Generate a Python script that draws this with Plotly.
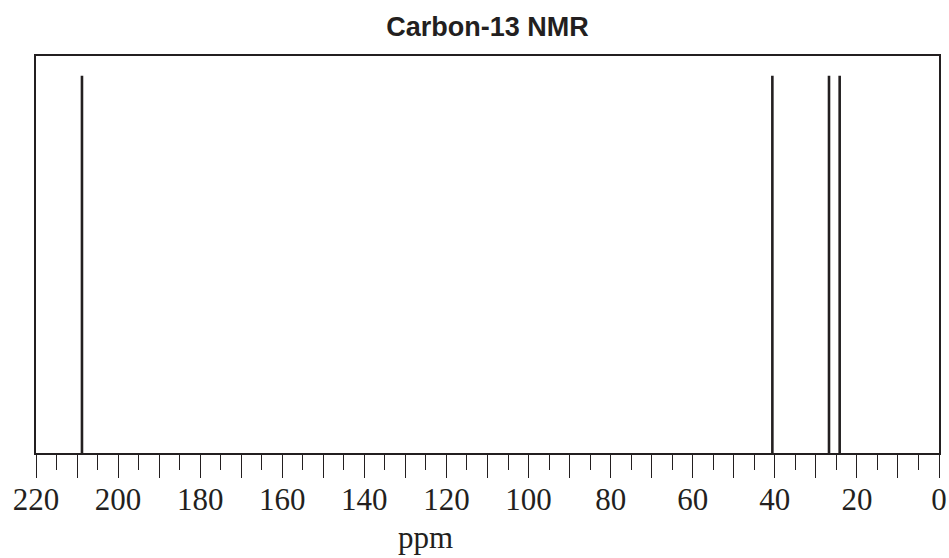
import plotly.graph_objects as go

# Data
peak_ppm = [208.8, 40.6, 26.8, 24.2]
peak_intensity = [0.95, 0.95, 0.95, 0.95]
tick_values = list(range(0, 221, 10))
tick_labels = [str(v) if v % 20 == 0 else "" for v in tick_values]

INK = "#231f20"

xs, ys = [], []
for p, h in zip(peak_ppm, peak_intensity):
    xs += [p, p, None]
    ys += [0, h, None]

fig = go.Figure()
fig.add_trace(go.Scatter(x=xs, y=ys, mode="lines",
                         line=dict(color=INK, width=2.6),
                         hoverinfo="skip", showlegend=False))

fig.update_layout(
    width=949, height=558,
    margin=dict(l=36, r=10, t=56, b=105, autoexpand=False),
    paper_bgcolor="white", plot_bgcolor="white",
    title=dict(text="<b>Carbon-13 NMR</b>", x=(36 + 939) / 2 / 949, xanchor="center",
               y=1 - 27 / 558, yanchor="middle", yref="container",
               font=dict(family="Liberation Sans", size=27, color=INK)),
    xaxis=dict(range=[220, 0], tickmode="array", tickvals=tick_values, ticktext=tick_labels,
               ticks="outside", ticklen=23, tickwidth=1.2, tickcolor=INK,
               showline=True, linecolor=INK, linewidth=1.5, mirror=True,
               showgrid=False, zeroline=False, automargin=False,
               ticklabelstandoff=-5,
               tickfont=dict(family="Liberation Serif", size=31, color=INK),
               minor=dict(dtick=5, tick0=0, ticks="outside", ticklen=15, tickwidth=1.2,
                          tickcolor=INK, showgrid=False)),
    yaxis=dict(range=[0, 1], showticklabels=False, ticks="", showgrid=False, zeroline=False,
               showline=True, linecolor=INK, linewidth=1.5, mirror=True, automargin=False),
    annotations=[dict(text="ppm", x=(425 - 36) / 903, y=(453 - 537) / 397,
                      xref="paper", yref="paper", xanchor="center", yanchor="middle",
                      showarrow=False, font=dict(family="Liberation Serif", size=31, color=INK))],
)

fig.write_html("out.html")
